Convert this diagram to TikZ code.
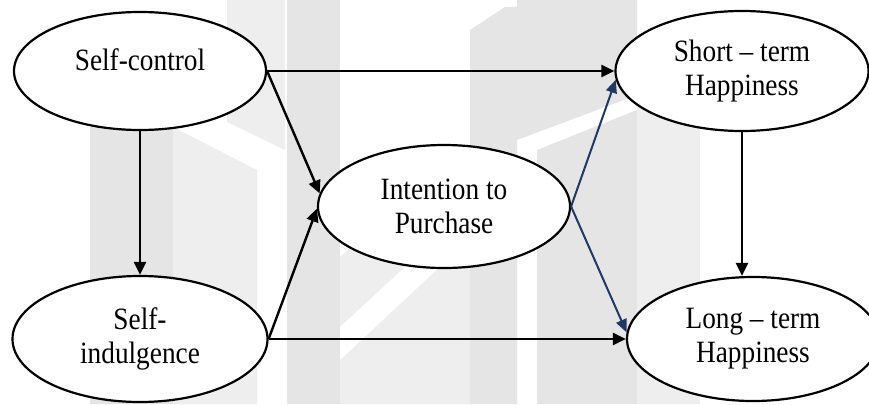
\documentclass[tikz,border=0pt]{standalone}
\usepackage{fontspec}
\setmainfont{Liberation Serif}[FakeStretch=0.88]
\usetikzlibrary{arrows.meta,shapes.geometric}
\definecolor{navyarrow}{HTML}{1F3864}
\definecolor{wmdark}{HTML}{E5E5E5}
\definecolor{wmlight}{HTML}{EEEEEE}
\tikzset{
  oval/.style={ellipse, draw=black, line width=2.2pt, fill=white, inner sep=0pt,
               align=center, font=\fontsize{31}{34}\selectfont},
  link/.style={line width=2.4pt, -{Triangle[length=13pt,width=12pt]}},
  bluelink/.style={line width=2pt, draw=navyarrow, -{Triangle[length=13pt,width=11pt]}, navyarrow},
}
\begin{document}
\begin{tikzpicture}[x=1pt,y=-1pt]
\useasboundingbox (0,0) rectangle (869,404);
\fill[white] (0,0) rectangle (869,404);
% faint watermark blocks in the background
\fill[wmdark]  (90,127) -- (173,127) -- (173,404) -- (90,404) -- cycle;
\fill[wmlight] (173,127) -- (257,170) -- (257,404) -- (173,404) -- cycle;
\fill[wmlight] (227,0) -- (285,0) -- (285,150) -- (227,122) -- cycle;
\fill[wmdark]  (287,0) -- (340,0) -- (340,404) -- (287,404) -- cycle;
\fill[wmlight] (340,257) -- (445,160) -- (470,160) -- (470,404) -- (340,404) -- cycle;
\fill[white]   (340,327) -- (445,230) -- (445,262) -- (340,360) -- cycle;
\fill[wmdark]  (470,30) -- (505,7) -- (517,7) -- (517,404) -- (470,404) -- cycle;
\fill[wmdark]  (517,0) -- (637,0) -- (637,95) -- (517,140) -- cycle;
\fill[wmdark]  (537,150) -- (637,110) -- (637,404) -- (537,404) -- cycle;
\fill[wmlight] (637,100) -- (700,100) -- (700,404) -- (637,404) -- cycle;

% constructs
\node[oval, minimum width=252pt, minimum height=118pt] (sc) at (140,71)
  {\raisebox{1pt}[0pt][0pt]{Self-control}};
\node[oval, minimum width=255pt, minimum height=126pt] (si) at (140,339) {Self-\\indulgence};
\node[oval, minimum width=252pt, minimum height=123pt] (int) at (444,206.5) {Intention to\\Purchase};
\node[oval, minimum width=253pt, minimum height=120pt] (sh) at (742,71) {Short -- term\\Happiness};
\node[oval, minimum width=252pt, minimum height=124pt] (lt) at (753,339) {Long -- term\\Happiness};

% paths
\draw[link] (sc.east) -- (sh.west);
\draw[link] (sc.east) -- (int.174);
\draw[link] (si.east) -- (int.181);
\draw[link] (si.east) -- (lt.west);
\draw[link] (sc.south) -- (si.north);
\draw[link] (sh.south) -- (sh.south |- lt.north);
\draw[bluelink] (int.east) -- (sh.184);
\draw[bluelink] (int.east) -- (lt.177);
\end{tikzpicture}
\end{document}
